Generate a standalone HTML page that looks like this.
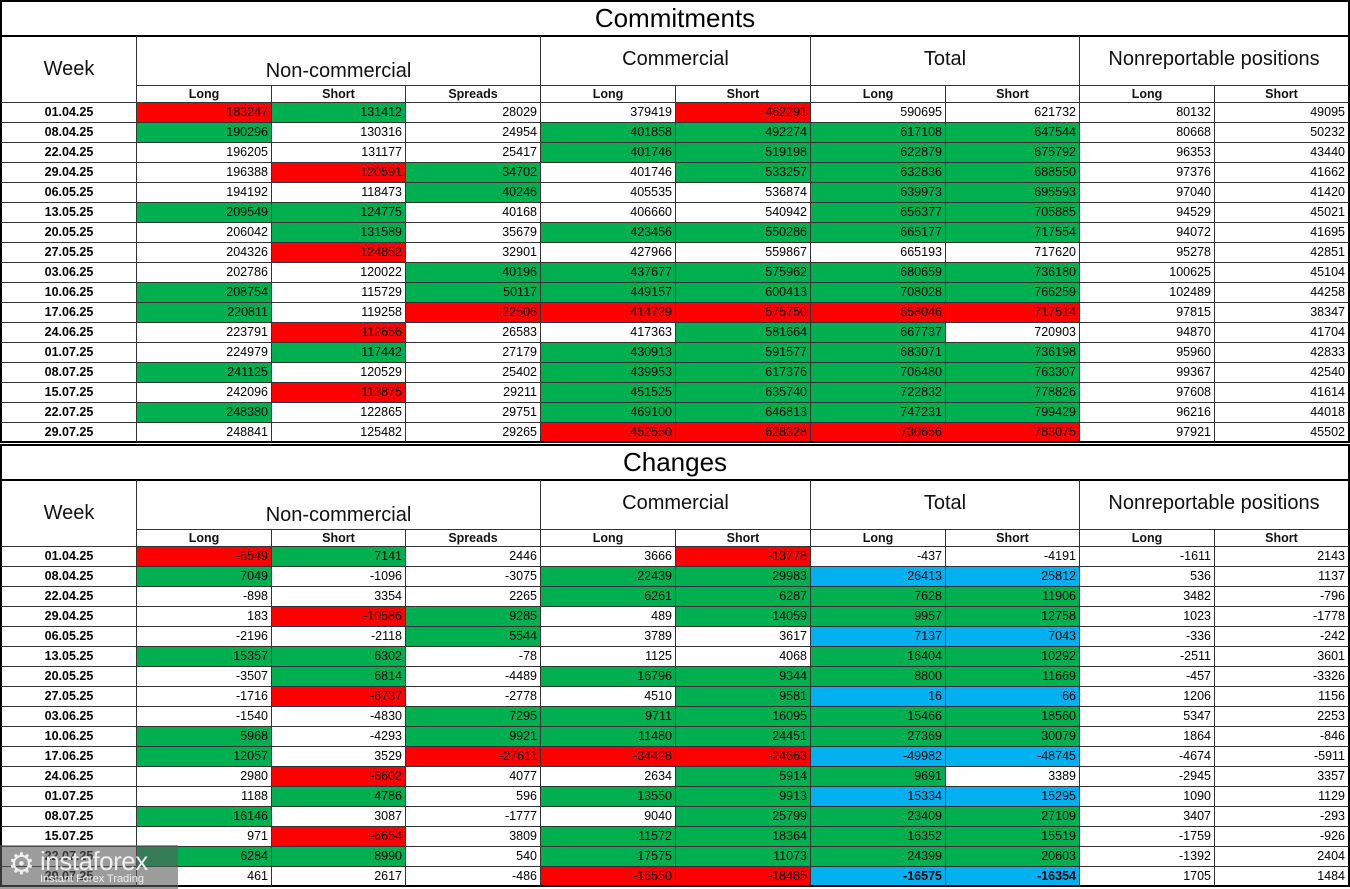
<!DOCTYPE html>
<html><head><meta charset="utf-8">
<style>
body{margin:0;width:1350px;height:889px;background:#fff;position:relative;overflow:hidden;font-family:"Liberation Sans",sans-serif;}
.c{position:absolute;box-sizing:border-box;border-right:1px solid #333;border-bottom:1px solid #333;font-size:12.5px;line-height:19px;text-align:right;padding-right:3px;color:#000;}
.w{text-align:center;font-weight:bold;padding:0;}
.h{position:absolute;box-sizing:border-box;border-right:1px solid #333;border-bottom:1px solid #333;text-align:center;color:#111;}
.title{position:absolute;left:0;width:1350px;text-align:center;font-size:26px;box-sizing:border-box;border:2px solid #000;}
.sub{font-weight:bold;font-size:12.5px;line-height:16px;}
</style></head><body>
<div id="root"></div>
<div style="position:absolute;left:0;top:845px;width:178px;height:44px;background:rgba(90,90,90,0.6);color:#eee;">
<div style="position:absolute;left:8px;top:2px;font-size:30px;">⚙</div>
<div style="position:absolute;left:40px;top:1px;font-size:26px;letter-spacing:-0.5px;">instaforex</div>
<div style="position:absolute;left:40px;top:28px;font-size:11px;">Instant Forex Trading</div>
</div>
<script>
const weeks=["01.04.25","08.04.25","22.04.25","29.04.25","06.05.25","13.05.25","20.05.25","27.05.25","03.06.25","10.06.25","17.06.25","24.06.25","01.07.25","08.07.25","15.07.25","22.07.25","29.07.25"];
const groups=["Non-commercial","Commercial","Total","Nonreportable positions"];
const subLabels=["Long","Short","Spreads","Long","Short","Long","Short","Long","Short"];
const commitments=[
"183247r 131412g 28029 379419 462291r 590695 621732 80132 49095",
"190296g 130316 24954 401858g 492274g 617108g 647544g 80668 50232",
"196205 131177 25417 401746g 519198g 622879g 675792g 96353 43440",
"196388 120591r 34702g 401746 533257g 632836g 688550g 97376 41662",
"194192 118473 40246g 405535 536874 639973g 695593g 97040 41420",
"209549g 124775g 40168 406660 540942 656377g 705885g 94529 45021",
"206042 131589g 35679 423456g 550286g 665177g 717554g 94072 41695",
"204326 124852r 32901 427966 559867 665193 717620 95278 42851",
"202786 120022 40196g 437677g 575962g 680659g 736180g 100625 45104",
"208754g 115729 50117g 449157g 600413g 708028g 766259g 102489 44258",
"220811g 119258 22506r 414729r 575750r 658046r 717514r 97815 38347",
"223791 112656r 26583 417363 581664g 667737g 720903 94870 41704",
"224979 117442g 27179 430913g 591577g 683071g 736198g 95960 42833",
"241125g 120529 25402 439953g 617376g 706480g 763307g 99367 42540",
"242096 113875r 29211 451525g 635740g 722832g 778826g 97608 41614",
"248380g 122865 29751 469100g 646813g 747231g 799429g 96216 44018",
"248841 125482 29265 452550r 628328r 730656r 783075r 97921 45502"];
const changes=[
"-6549r 7141g 2446 3666 -13778r -437 -4191 -1611 2143",
"7049g -1096 -3075 22439g 29983g 26413b 25812b 536 1137",
"-898 3354 2265 6261g 6287g 7628g 11906g 3482 -796",
"183 -10586r 9285g 489 14059g 9957g 12758g 1023 -1778",
"-2196 -2118 5544g 3789 3617 7137b 7043b -336 -242",
"15357g 6302g -78 1125 4068 16404g 10292g -2511 3601",
"-3507 6814g -4489 16796g 9344g 8800g 11669g -457 -3326",
"-1716 -6737r -2778 4510 9581g 16b 66b 1206 1156",
"-1540 -4830 7295g 9711g 16095g 15466g 18560g 5347 2253",
"5968g -4293 9921g 11480g 24451g 27369g 30079g 1864 -846",
"12057g 3529 -27611r -34428r -24663r -49982b -48745b -4674 -5911",
"2980 -6602r 4077 2634 5914g 9691g 3389 -2945 3357",
"1188 4786g 596 13550g 9913g 15334b 15295b 1090 1129",
"16146g 3087 -1777 9040 25799g 23409g 27109g 3407 -293",
"971 -6654r 3809 11572g 18364g 16352g 15519g -1759 -926",
"6284g 8990g 540 17575g 11073g 24399g 20603g -1392 2404",
"461 2617 -486 -16550r -18485r -16575b -16354b 1705 1484"];
const X=[0,137,272,406,541,676,811,946,1080,1215,1350];
const colors={r:"#ff0000",g:"#00b050",b:"#00b0f0"};
const root=document.getElementById('root');
function el(cls,x,y,w,h,txt,name){const d=document.createElement('div');d.className=cls;d.style.left=x+'px';d.style.top=y+'px';d.style.width=w+'px';d.style.height=h+'px';if(txt!==undefined)d.textContent=txt;


root.appendChild(d);return d;}
function section(title,top,data,prefix){
  el('title',0,top,1350,37,title,prefix+'-title').style.lineHeight='33px';
  const hy=top+36;
  const wk=el('h',0,hy,137,67,'Week',prefix+'-week-header');wk.style.fontSize='20px';wk.style.lineHeight='67px';wk.style.borderLeft='2px solid #000';
  const gs=[[1,4],[4,6],[6,8],[8,10]];
  gs.forEach((g,i)=>{const d=el('h',X[g[0]],hy,X[g[1]]-X[g[0]],50,groups[i],prefix+'-group-'+groups[i].toLowerCase().replace(/[^a-z]+/g,'-'));d.style.fontSize='20px';d.style.lineHeight=(i==0?'70px':'46px');if(i==3)d.style.borderRight='2px solid #000';});
  subLabels.forEach((s,i)=>{const d=el('h sub',X[i+1],hy+50,X[i+2]-X[i+1],17,s,prefix+'-sub-'+s.toLowerCase());if(i==8)d.style.borderRight='2px solid #000';});
  const ry=hy+67;
  weeks.forEach((wkd,r)=>{
    const y=ry+r*20;
    const last=r==weeks.length-1;
    const w=el('c w',0,y,137,20,wkd,prefix+'-week-'+wkd);w.style.borderLeft='2px solid #000';
    if(last)w.style.borderBottom='2px solid #000';
    data[r].split(' ').forEach((v,i)=>{
      const m=v.match(/^(-?\d+)([rgb]?)$/);
      const d=el('c',X[i+1],y,X[i+2]-X[i+1],20,m[1],prefix+'-cell-'+wkd+'-'+i);
      if(m[2])d.style.background=colors[m[2]];
      if(m[2]=='b'&&last)d.style.fontWeight='bold';
      if(i==8)d.style.borderRight='2px solid #000';
      if(last)d.style.borderBottom='2px solid #000';
    });
  });
}
section('Commitments',0,commitments,'commitments');
section('Changes',444,changes,'changes');
</script>
</body></html>
